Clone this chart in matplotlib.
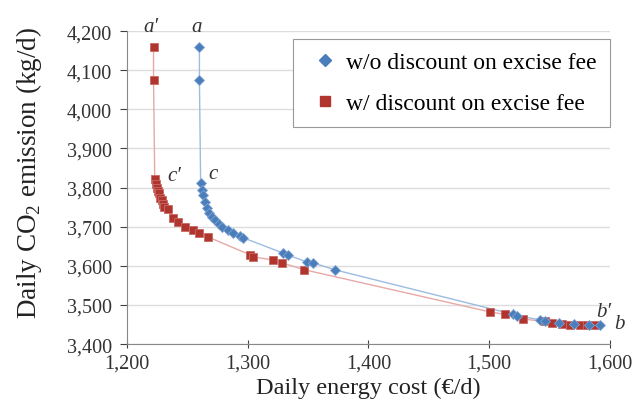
import matplotlib.pyplot as plt
from matplotlib.lines import Line2D
from matplotlib.ticker import FuncFormatter

plt.rcParams['font.family'] = ['Liberation Serif', 'DejaVu Serif']
plt.rcParams['mathtext.fontset'] = 'custom'
plt.rcParams['mathtext.rm'] = 'Liberation Serif'

# w/o discount on excise fee
cost_wo = [1260, 1260, 1261, 1262, 1263, 1265, 1266, 1268, 1270, 1273, 1276, 1279,
           1284, 1288, 1294, 1296, 1329, 1333, 1349, 1354, 1372,
           1520, 1523, 1542, 1546, 1558, 1570, 1583, 1592]
co2_wo = [4160, 4075, 3813, 3795, 3780, 3762, 3749, 3736, 3726, 3718, 3708, 3700,
          3692, 3685, 3677, 3672, 3633, 3628, 3610, 3608, 3590,
          3476, 3473, 3462, 3460, 3455, 3452, 3450, 3449]

# w/ discount on excise fee
cost_w = [1222, 1222, 1223, 1224, 1225, 1226, 1226.5, 1227, 1229, 1230, 1231, 1234,
          1238, 1242, 1248, 1255, 1260, 1267, 1302, 1304, 1321, 1328, 1347,
          1501, 1513, 1528, 1546, 1552, 1560, 1567, 1575, 1581, 1588]
co2_w = [4160, 4075, 3821, 3810, 3800, 3792, 3785, 3774, 3767, 3759, 3751, 3744,
         3723, 3713, 3700, 3692, 3685, 3674, 3628, 3623, 3615, 3608, 3590,
         3482, 3476, 3464, 3458, 3454, 3452, 3450, 3450, 3449, 3450]

blue = '#4A7EBB'
red = '#B0352F'

fig = plt.figure(figsize=(6.33, 4.06), dpi=100)
ax = fig.add_axes([0.2006, 0.150, 0.763, 0.771])

ax.plot(cost_w, co2_w, '-', color='#E7A9A7', lw=1, zorder=2)
ax.plot(cost_w, co2_w, 's', color=red, ms=6, mec='#C86A66', mew=0.6, ls='none', zorder=3)
ax.plot(cost_wo, co2_wo, '-', color='#9DBCE2', lw=1, zorder=2)
ax.plot(cost_wo, co2_wo, 'D', color=blue, ms=5.5, mec='#7FA3D3', mew=0.6, ls='none', zorder=4)

ax.set_xlim(1200, 1600)
ax.set_ylim(3400, 4200)
ax.set_xticks([1200, 1300, 1400, 1500, 1600])
ax.set_yticks(range(3400, 4201, 100))
fmt = FuncFormatter(lambda v, p: f'{int(v):,}')
ax.xaxis.set_major_formatter(fmt)
ax.yaxis.set_major_formatter(fmt)
ax.tick_params(axis='both', labelsize=14.5, colors='#404040', labelcolor='#333333')
ax.tick_params(axis='y', length=5, pad=6)
ax.tick_params(axis='x', direction='inout', length=6, pad=4)

ax.grid(axis='y', color='#DDDDDD', lw=1)
ax.set_axisbelow(True)
for s in ['top', 'right']:
    ax.spines[s].set_visible(False)
for s in ['left', 'bottom']:
    ax.spines[s].set_color('#888888')

ax.set_xlabel('Daily energy cost (€/d)', fontsize=17.5, color='#222222')
ax.xaxis.set_label_coords(0.5, -0.105)
ax.set_ylabel('Daily CO$_2$ emission (kg/d)', fontsize=19.5, color='#222222')
ax.yaxis.set_label_coords(-0.172, 0.55)

notes = [('a\u2032', 1220, 4212), ('a', 1258, 4212), ('c\u2032', 1239, 3832),
         ('c', 1271, 3835), ('b\u2032', 1595, 3484), ('b', 1608, 3452)]
for txt, x, y in notes:
    ax.text(x, y, txt, fontsize=15, style='italic', color='#333333',
            ha='center', va='center', clip_on=False)

handles = [Line2D([], [], marker='D', color=blue, ls='none', ms=6.5),
           Line2D([], [], marker='s', color=red, ls='none', ms=6.5)]
leg = ax.legend(handles, ['w/o discount on excise fee', 'w/ discount on excise fee'],
                loc='upper right', bbox_to_anchor=(1.0, 0.975), borderaxespad=0,
                fontsize=17, frameon=True, fancybox=False, edgecolor='#999999',
                framealpha=1, handletextpad=0.1, labelspacing=0.8, borderpad=0.55,
                handlelength=1.6)
leg.get_frame().set_linewidth(0.8)

fig.savefig('out.png', dpi=100)
